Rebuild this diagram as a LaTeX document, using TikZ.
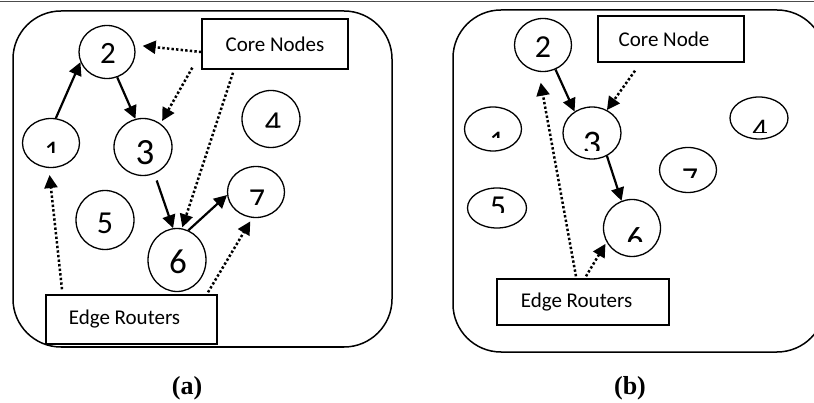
\documentclass[tikz,border=0pt]{standalone}
\usepackage{fontspec}
\setmainfont{Carlito}
\newfontfamily\capfont{Liberation Serif}
\usetikzlibrary{shapes.geometric,arrows.meta}
\begin{document}
\begin{tikzpicture}[x=1pt,y=-1pt,
  el/.style n args={2}{draw, ellipse, line width=1.3pt, inner sep=0pt, minimum width=#1pt, minimum height=#2pt},
  box/.style={draw, line width=1.4pt, inner sep=0pt, font=\fontsize{21}{25}\selectfont},
  dig/.style={inner sep=0pt, anchor=north, font=\fontsize{#1}{#1}\selectfont},
  arr/.style={line width=2.2pt, -{Triangle[length=13pt,width=13pt]}},
  dotarr/.style={line width=2.5pt, dash pattern=on 2.4pt off 2.2pt, -{Triangle[length=13pt,width=13pt]}},
  frame/.style={line width=1.5pt, rounded corners=48pt},
  captext/.style={font=\capfont\bfseries\fontsize{26}{30}\selectfont}
]
\clip (0,0) rectangle (814,403);
\fill[white] (0,0) rectangle (814,403);
\draw[black!70, line width=1.5pt] (0,1.5) -- (814,1.5);

% ---------- panel (a)
\draw[frame] (13,11) rectangle (392,347);
\node[el={57}{49}] (a1) at (51,143) {};
\node[el={56}{53}] (a2) at (107,52) {};
\node[el={58}{57}] (a3) at (143,147) {};
\node[el={58}{57}] (a4) at (271,119) {};
\node[el={58}{59}] (a5) at (105,220) {};
\node[el={58}{63}] (a6) at (177,260) {};
\node[el={57}{51}] (a7) at (256,192) {};

\node[dig=31] (ta2) at (108,43) {2};
\node[dig=37] (ta3) at (145,140) {3};
\node[dig=32] (ta5) at (105,213) {5};
\node[dig=35] (ta6) at (178,250) {6};
\begin{scope}\clip (222,180) rectangle (290,205); \node[dig=32] (ta7) at (257,190) {7}; \end{scope}
\begin{scope}\clip (22,130) rectangle (82,153); \node[dig=30] (ta1) at (52,142) {1}; \end{scope}
\begin{scope}\clip (240,100) rectangle (305,128); \node[dig=32] (ta4) at (273,113) {4}; \end{scope}

\node[box, minimum width=146pt, minimum height=50pt] (acore) at (275,44) {Core Nodes};
\node[box, minimum width=171pt, minimum height=49pt] (aedge) at (131.5,319.5) {Edge Routers\kern14pt};

\draw[arr] (a1.79) -- (a2.201);
\draw[arr] (a2.292) -- (a3.105);
\draw[arr, shorten <=7pt] (a3.293) -- (a6.97);
\draw[arr] (a6.69) -- (a7.186);

\draw[dotarr, shorten >=8pt] ([yshift=-8pt]acore.west) -- (a2.14);
\draw[dotarr, shorten >=3pt] ([xshift=-9pt,yshift=2pt]acore.south west) -- (a3.53);
\draw[dotarr, shorten >=1pt] ([xshift=-42pt,yshift=-3pt]acore.south) -- (a6.81);
\draw[dotarr, shorten >=7pt] ([xshift=-69.5pt,yshift=5pt]aedge.north) -- (a1.265);
\draw[dotarr, shorten >=4pt] ([xshift=76.5pt,yshift=2pt]aedge.north) -- (a7.262);

\node[captext] (capa) at (187,388) {(a)};

% ---------- panel (b)
\draw[frame] (453,10) rectangle (825,352);
\node[el={57}{44}] (b1) at (493,129) {};
\node[el={57}{53}] (b2) at (543,45) {};
\node[el={58}{52}] (b3) at (592,133) {};
\node[el={58}{42}] (b4) at (759,118) {};
\node[el={59}{40}] (b5) at (497,208) {};
\node[el={57}{57}] (b6) at (632,228) {};
\node[el={57}{45}] (b7) at (688,170) {};

\node[dig=32] (tb2) at (543,37) {2};
\begin{scope}\clip (562,120) rectangle (622,151); \node[dig=36] (tb3) at (592,132) {3}; \end{scope}
\begin{scope}\clip (465,120) rectangle (522,138); \node[dig=30] (tb1) at (497,132) {1}; \end{scope}
\begin{scope}\clip (730,110) rectangle (790,133); \node[dig=30] (tb4) at (760,120) {4}; \end{scope}
\begin{scope}\clip (660,160) rectangle (717,178); \node[dig=32] (tb7) at (690,169) {7}; \end{scope}
\begin{scope}\clip (468,190) rectangle (527,213); \node[dig=32] (tb5) at (498,197) {5}; \end{scope}
\begin{scope}\clip (604,215) rectangle (661,242); \node[dig=34] (tb6) at (635,227) {6}; \end{scope}

\node[box, minimum width=146pt, minimum height=46pt] (bcore) at (671,39) {Core Node\kern14pt};
\node[box, minimum width=172pt, minimum height=46pt] (bedge) at (583,302) {Edge Routers\kern13pt};

\draw[arr] (b2.297) -- (b3.129);
\draw[arr] (b3.303) -- (b6.111);

\draw[dotarr] ([xshift=-36pt,yshift=-8pt]bcore.south) -- (b3.57);
\draw[dotarr, shorten >=11pt] ([xshift=-7pt,yshift=2pt]bedge.north) -- (b2.261);
\draw[dotarr, shorten >=2pt] ([xshift=3pt,yshift=2pt]bedge.north) -- (b6.209);

\node[captext] (capb) at (630,388) {(b)};
\end{tikzpicture}
\end{document}
